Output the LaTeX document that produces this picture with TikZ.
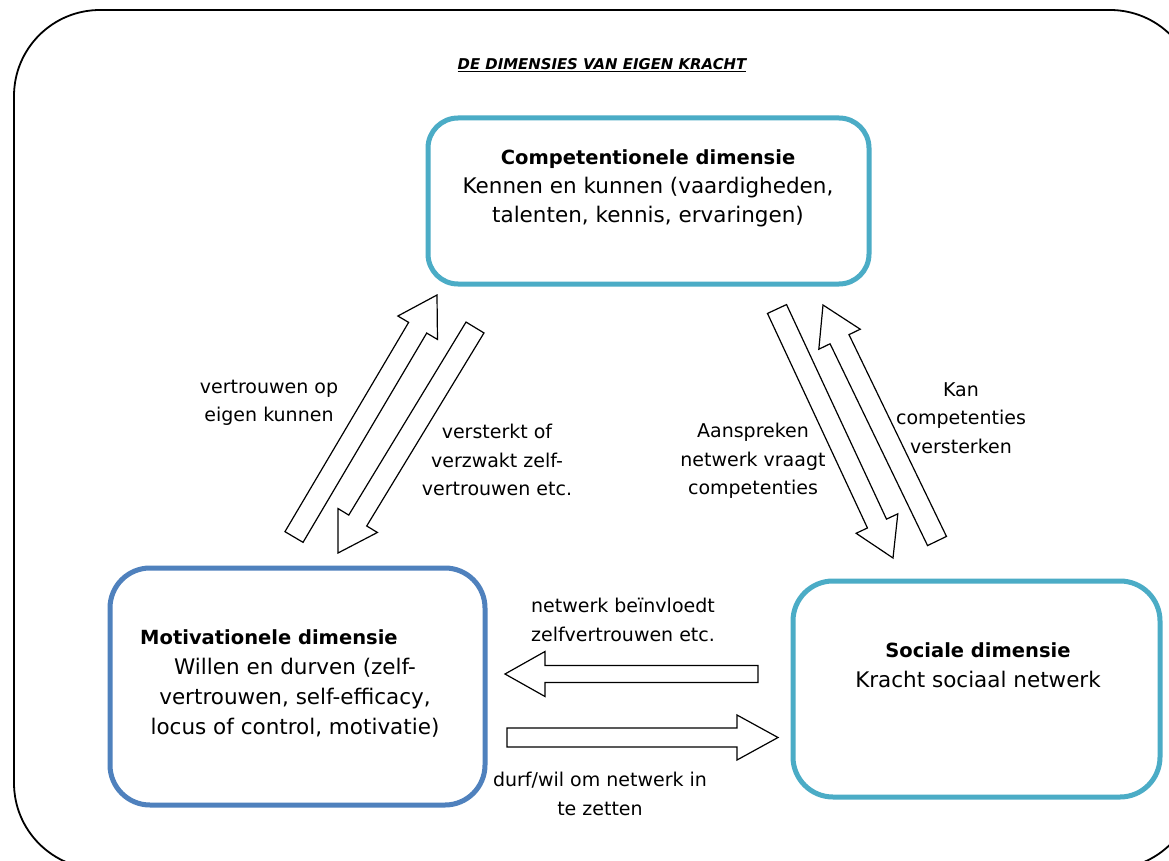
\documentclass[tikz,border=0pt]{standalone}
\usepackage{fontspec}
\setmainfont{DejaVu Sans}
\usetikzlibrary{calc}
\definecolor{tealc}{RGB}{75,172,198}
\definecolor{bluec}{RGB}{79,129,189}
\newcommand\blkarrow[6]{%
  \coordinate (#1-b) at ($(#3)!#6!(#2)$);
  \draw[barrow] ($(#2)!#4!90:(#3)$) -- ($(#1-b)!#4!90:(#3)$) -- ($(#1-b)!#5!90:(#3)$) -- (#3)
    -- ($(#1-b)!#5!-90:(#3)$) -- ($(#1-b)!#4!-90:(#3)$) -- ($(#2)!#4!-90:(#3)$) -- cycle;
}
\begin{document}
\begin{tikzpicture}[x=1pt,y=-1pt,
  dimbox/.style={draw, line width=5pt, fill=white, inner sep=0pt},
  barrow/.style={draw=black, fill=white, line width=1.2pt, line join=miter},
  lbl/.style={align=center, font=\fontsize{19}{28.5}\selectfont, inner sep=0pt},
  boxtxt/.style={align=center, font=\fontsize{21.5}{29}\selectfont, inner sep=0pt},
  boldtxt/.style={font=\fontsize{19.5}{29}\selectfont\bfseries, inner sep=0pt}]
\clip (0,0) rectangle (1169,861);
\fill[white] (0,0) rectangle (1169,861);
% outer frame
\draw[line width=1.8pt, rounded corners=86pt] (14,10) rectangle (1196,869);
% title
\node[inner sep=0pt, font=\fontsize{14.9}{17}\selectfont\bfseries\itshape] (title) at (602,65) {\underline{DE DIMENSIES VAN EIGEN KRACHT}};
% boxes
\node[dimbox, draw=tealc, rounded corners=30pt, minimum width=441pt, minimum height=166pt] (comp) at (648.5,201) {};
\node[dimbox, draw=bluec, rounded corners=40pt, minimum width=375pt, minimum height=237pt] (motiv) at (297.5,686.5) {};
\node[dimbox, draw=tealc, rounded corners=40pt, minimum width=367pt, minimum height=216pt] (soc) at (976.5,689) {};
% box texts
\node[boldtxt] (comptitle) at (648,159) {Competentionele dimensie};
\node[boxtxt] (comptext) at (648,202) {Kennen en kunnen (vaardigheden,\\talenten, kennis, ervaringen)};
\node[boldtxt, anchor=west] (motivtitle) at (140,637) {Motivationele dimensie};
\node[boxtxt, font=\fontsize{21.5}{30}\selectfont] (motivtext) at (295,698) {Willen en durven (zelf-\\vertrouwen, self-efficacy,\\locus of control, motivatie)};
\node[boldtxt] (soctitle) at (978,650) {Sociale dimensie};
\node[boxtxt] (soctext) at (978,679) {Kracht sociaal netwerk};
% arrow coordinates
\coordinate (a1t) at (294,537); \coordinate (a1h) at (437,295);
\coordinate (a2t) at (475,327.5); \coordinate (a2h) at (338,553);
\coordinate (a3t) at (777,309); \coordinate (a3h) at (893,558);
\coordinate (a4t) at (937,541); \coordinate (a4h) at (823,305);
\coordinate (a5t) at (758,674); \coordinate (a5h) at (505,674);
\coordinate (a6t) at (507,737.5); \coordinate (a6h) at (778,737.5);
\blkarrow{a1}{a1t}{a1h}{10.5pt}{23pt}{38pt}
\blkarrow{a2}{a2t}{a2h}{10.5pt}{23pt}{38pt}
\blkarrow{a3}{a3t}{a3h}{10.5pt}{23pt}{38pt}
\blkarrow{a4}{a4t}{a4h}{10.5pt}{23pt}{38pt}
\blkarrow{a5}{a5t}{a5h}{8.5pt}{22.5pt}{40pt}
\blkarrow{a6}{a6t}{a6h}{9.5pt}{22.5pt}{41pt}
% labels
\node[lbl] (l1) at (269,403) {vertrouwen op\\eigen kunnen};
\node[lbl] (l2) at (497,460) {versterkt of\\verzwakt zelf-\\vertrouwen etc.};
\node[lbl] (l3) at (753,461) {Aanspreken\\netwerk vraagt\\competenties};
\node[lbl] (l4) at (961,418) {Kan\\competenties\\versterken};
\node[lbl] (l5) at (623,620) {netwerk beïnvloedt\\zelfvertrouwen etc.};
\node[lbl] (l6) at (600,794) {durf/wil om netwerk in\\te zetten};
\end{tikzpicture}
\end{document}
